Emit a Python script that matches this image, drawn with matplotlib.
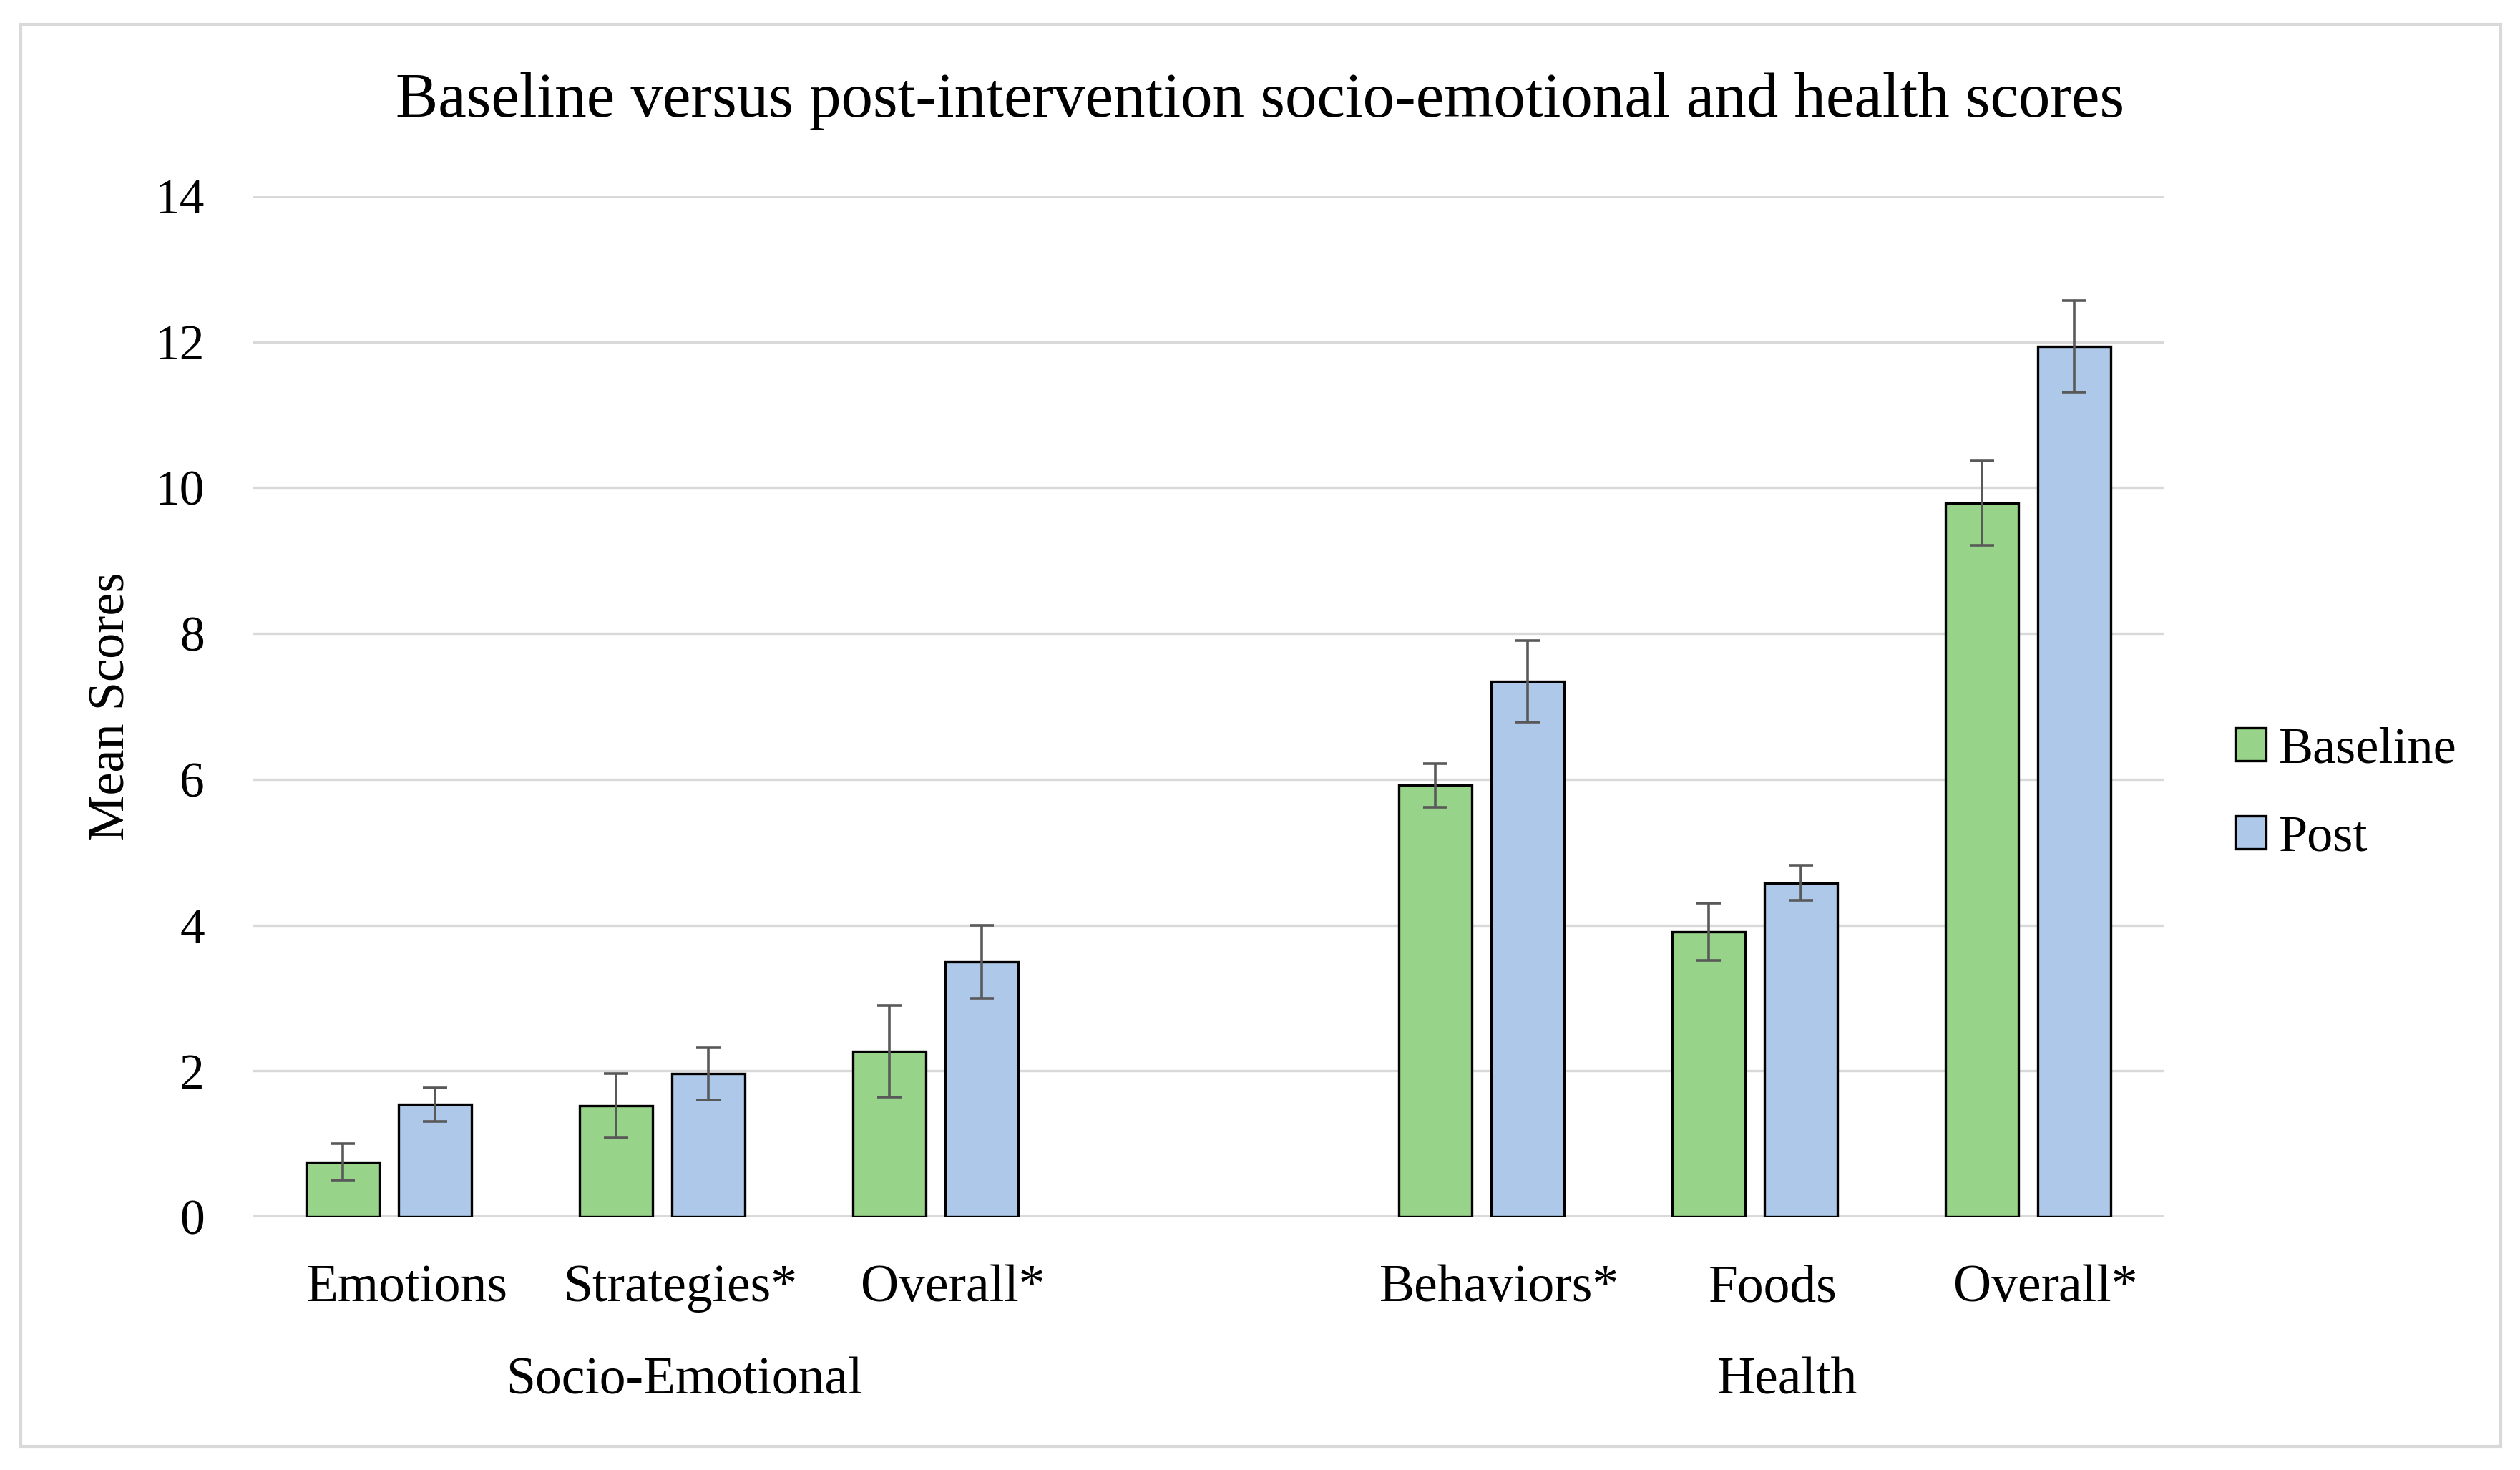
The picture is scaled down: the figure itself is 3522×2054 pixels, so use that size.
import numpy as np
import matplotlib.pyplot as plt
from matplotlib.patches import Rectangle
from matplotlib.transforms import ScaledTranslation

plt.rcParams['font.family'] = ['Liberation Serif', 'DejaVu Serif']

categories = ['Emotions', 'Strategies*', 'Overall*', '', 'Behaviors*', 'Foods', 'Overall*']
groups = ['Socio-Emotional', 'Health']
baseline = [0.75, 1.52, 2.27, np.nan, 5.92, 3.91, 9.79]
baseline_err = [0.25, 0.44, 0.63, np.nan, 0.30, 0.39, 0.58]
post = [1.54, 1.96, 3.50, np.nan, 7.34, 4.58, 11.94]
post_err = [0.23, 0.36, 0.50, np.nan, 0.56, 0.24, 0.63]

green = '#97D48A'
blue = '#AEC8E9'

fig = plt.figure(figsize=(17.61, 10.27), dpi=200)
ax = fig.add_axes([0.1002, 0.1723, 0.7587, 0.6943])

x = np.arange(len(categories))
w = 0.268
off = 0.169
ekw = dict(ecolor='#595959', elinewidth=1.3, capsize=6, capthick=1.3)
ax.bar(x - off, baseline, w, yerr=baseline_err, color=green, edgecolor='black',
       linewidth=1.2, label='Baseline', error_kw=ekw, zorder=3)
ax.bar(x + off, post, w, yerr=post_err, color=blue, edgecolor='black',
       linewidth=1.2, label='Post', error_kw=ekw, zorder=3)

ax.set_xlim(-0.5, 6.5)
ax.set_ylim(0, 14)
ax.set_yticks(range(0, 15, 2))
ax.yaxis.grid(True, color='#D9D9D9', linewidth=1.2, zorder=0)
ax.set_axisbelow(True)
for s in ['top', 'right', 'left', 'bottom']:
    ax.spines[s].set_visible(False)
ax.axhline(0, color='#D9D9D9', linewidth=1.4, zorder=1)

ax.set_xticks(x)
ax.set_xticklabels(categories, fontsize=26.5)
ax.tick_params(axis='x', length=0, pad=24)
ax.tick_params(axis='y', length=0, pad=24, labelsize=25)
shift = ScaledTranslation(9 / 72, 0, fig.dpi_scale_trans)
for lab in ax.get_xticklabels():
    lab.set_transform(lab.get_transform() + shift)

ax.text(1.08, -0.161, groups[0], transform=ax.get_xaxis_transform(),
        ha='center', va='center', fontsize=26.5)
ax.text(5.12, -0.161, groups[1], transform=ax.get_xaxis_transform(),
        ha='center', va='center', fontsize=26.5)

ax.set_ylabel('Mean Scores', fontsize=26, labelpad=10)

fig.text(0.5, 0.931, 'Baseline versus post-intervention socio-emotional and health scores',
         ha='center', va='center', fontsize=32)

fig.legend(loc='center left', bbox_to_anchor=(0.8685, 0.46), frameon=False,
           fontsize=26, handlelength=0.6, handleheight=0.6, handletextpad=0.25,
           labelspacing=0.8)

fig.patches.append(Rectangle((0.0082, 0.016), 0.9841, 0.9674, transform=fig.transFigure,
                             fill=False, edgecolor='#D9D9D9', linewidth=1.5))

fig.savefig('out.png', dpi=200)
